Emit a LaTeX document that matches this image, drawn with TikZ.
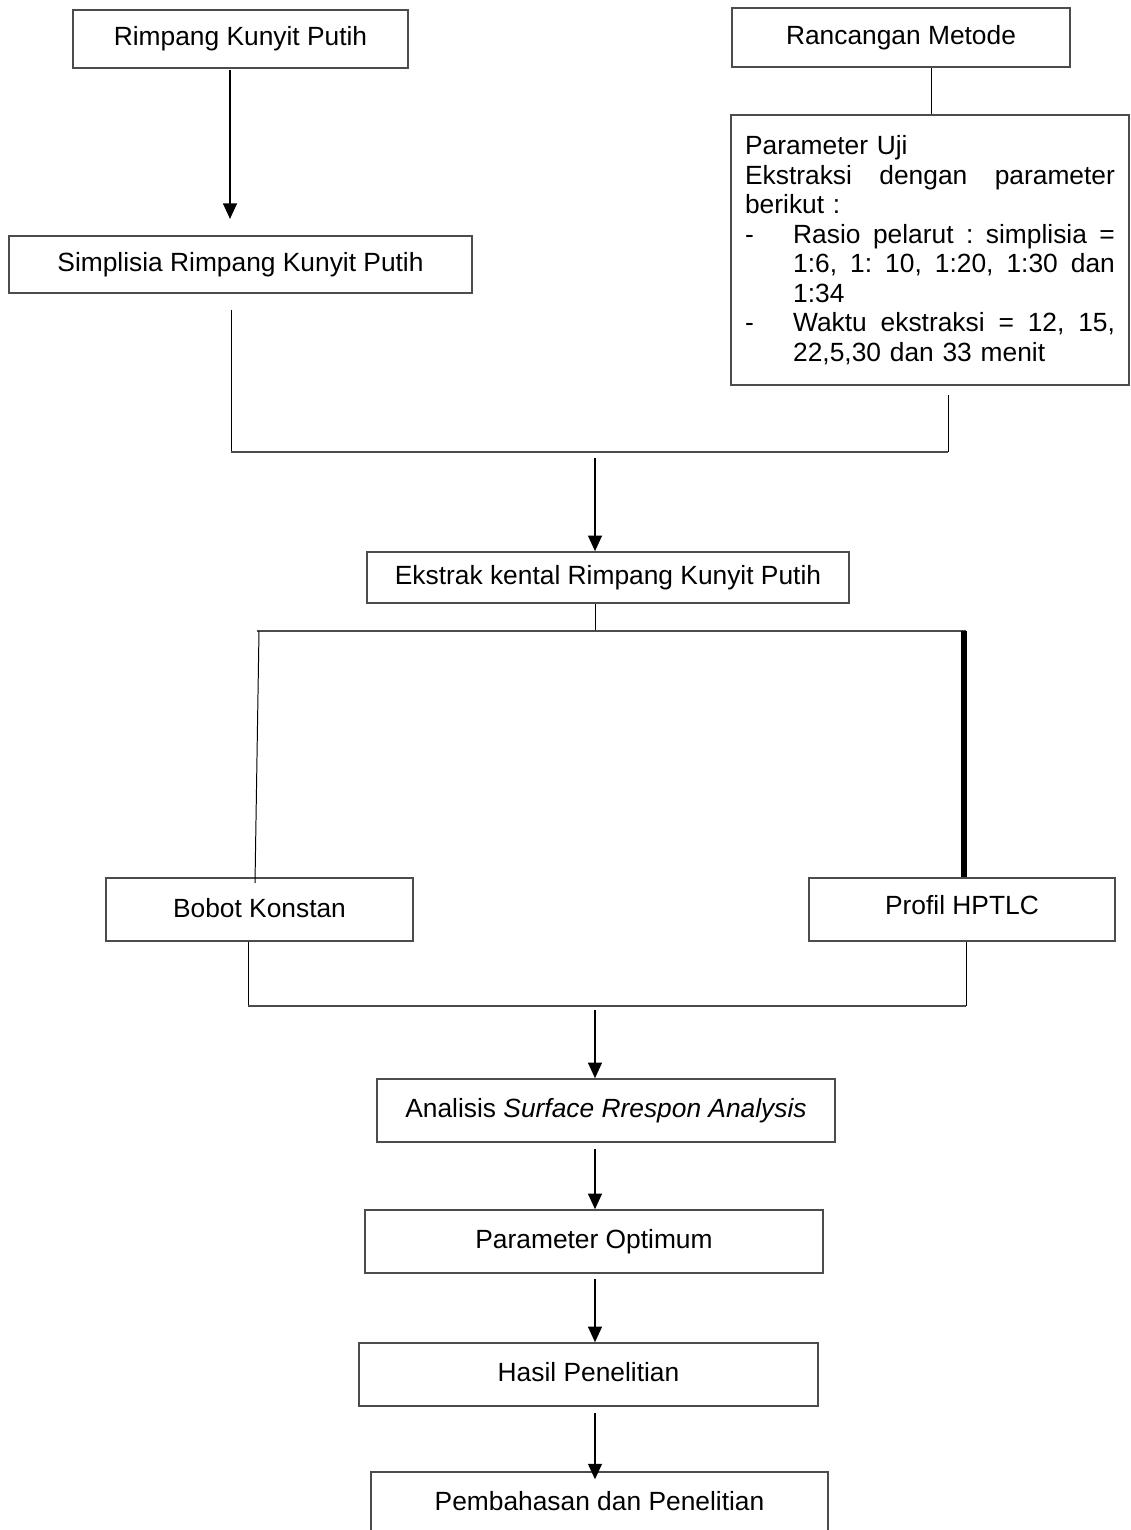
\documentclass[tikz,border=0pt]{standalone}
\usepackage{fontspec}
\setmainfont{Liberation Sans}
\usetikzlibrary{arrows.meta}

\tikzset{
  box/.style={draw=black!70, line width=0.7pt, rectangle, inner sep=0pt, align=center},
  flow/.style={line width=0.95pt, -{Triangle[width=0.22cm,length=0.25cm]}},
  link/.style={line width=0.45pt},
  bar/.style={draw=black!70, line width=1.1pt},
  heavy/.style={line width=2.3pt}
}

\begin{document}
\begin{tikzpicture}[x=0.016cm, y=-0.016cm, font=\fontsize{12}{13.43}\selectfont]
	\clip (0,0) rectangle (1130,1530);
	\fill[white] (0,0) rectangle (1130,1530);
	% boxes
		\node[box, minimum width=335*0.016cm, minimum height=58*0.016cm] (rimpang) at (240.5,39) {\raisebox{0.04cm}{Rimpang Kunyit Putih}};
		\node[box, minimum width=338*0.016cm, minimum height=59*0.016cm] (rancangan) at (901,37.5) {\raisebox{0.04cm}{Rancangan Metode}};
		\node[box, minimum width=463*0.016cm, minimum height=57*0.016cm] (simp) at (240.5,264.5) {Simplisia Rimpang Kunyit Putih};
		\node[box, minimum width=398*0.016cm, minimum height=270*0.016cm, text width=5.92cm, align=left] (param) at (930,250) {%
			Parameter Uji\\
			\makebox[5.92cm][s]{Ekstraksi\hfill dengan\hfill parameter}\\
			berikut :\\
			\makebox[0.77cm][l]{-}\makebox[5.15cm][s]{Rasio\hfill pelarut\hfill :\hfill simplisia\hfill =}\\
			\hspace*{0.77cm}\makebox[5.15cm][s]{1:6,\hfill 1:\hfill 10,\hfill 1:20,\hfill 1:30\hfill dan}\\
			\hspace*{0.77cm}1:34\\
			\makebox[0.77cm][l]{-}\makebox[5.15cm][s]{Waktu\hfill ekstraksi\hfill =\hfill 12,\hfill 15,}\\
			\hspace*{0.77cm}22,5,30 dan 33 menit};
		\node[box, minimum width=482*0.016cm, minimum height=51*0.016cm] (ekstrak) at (608,577.5) {Ekstrak kental Rimpang Kunyit Putih};
		\node[box, minimum width=307*0.016cm, minimum height=63*0.016cm] (bobot) at (259.5,909.5) {\raisebox{0.04cm}{Bobot Konstan}};
		\node[box, minimum width=306*0.016cm, minimum height=63*0.016cm] (profil) at (962,909.5) {\raisebox{0.15cm}{Profil HPTLC}};
		\node[box, minimum width=458*0.016cm, minimum height=63*0.016cm] (analisis) at (606,1110.5) {\raisebox{0.08cm}{Analisis \textit{Surface Rrespon Analysis}}};
		\node[box, minimum width=458*0.016cm, minimum height=63*0.016cm] (optimum) at (594,1241.5) {\raisebox{0.08cm}{Parameter Optimum}};
		\node[box, minimum width=459*0.016cm, minimum height=63*0.016cm] (hasil) at (588.5,1374.5) {\raisebox{0.08cm}{Hasil Penelitian}};
		\node[box, minimum width=457*0.016cm, minimum height=63*0.016cm] (bahas) at (599.5,1503.5) {\raisebox{0.08cm}{Pembahasan dan Penelitian}};
	% junction points
		\coordinate (a0) at (230,70);
		\coordinate (a0e) at (230,219);
		\coordinate (s1) at (231,310);
		\coordinate (j1l) at (231,452);
		\coordinate (j1r) at (948,452);
		\coordinate (p1) at (948,395);
		\coordinate (a1) at (595,458);
		\coordinate (j2l) at (257,631);
		\coordinate (j2r) at (966,631);
		\coordinate (b1) at (255,883);
		\coordinate (t1) at (964,631);
		\coordinate (j3l) at (248,1006);
		\coordinate (j3r) at (966,1006);
		\coordinate (a2) at (595,1010);
	% connectors
		\draw[flow] (a0) -- (a0e);
		\draw[link] (rancangan.south -| 931,0) -- (param.north -| 931,0);
		\draw[link] (s1) -- (j1l);
		\draw[bar] (j1l) -- (j1r);
		\draw[link] (j1r) -- (p1);
		\draw[flow] (a1) -- (a1 |- ekstrak.north);
		\draw[link] (a1 |- ekstrak.south) -- (a1 |- j2l);
		\draw[bar] (j2l) -- (j2r);
		\draw[link] (259,631) -- (b1);
		\draw[heavy] (t1) -- (t1 |- profil.north);
		\draw[link] (j3l |- bobot.south) -- (j3l);
		\draw[bar] (j3l) -- (j3r);
		\draw[link] (j3r) -- (j3r |- profil.south);
		\draw[flow] (a2) -- (a2 |- analisis.north);
		\draw[flow] ([yshift=-0.1cm]a2 |- analisis.south) -- (a2 |- optimum.north);
		\draw[flow] ([yshift=-0.08cm]a2 |- optimum.south) -- (a2 |- hasil.north);
		\draw[flow] ([yshift=-0.1cm]a2 |- hasil.south) -- ([yshift=-0.13cm]a2 |- bahas.north);
	\end{tikzpicture}
\end{document}
